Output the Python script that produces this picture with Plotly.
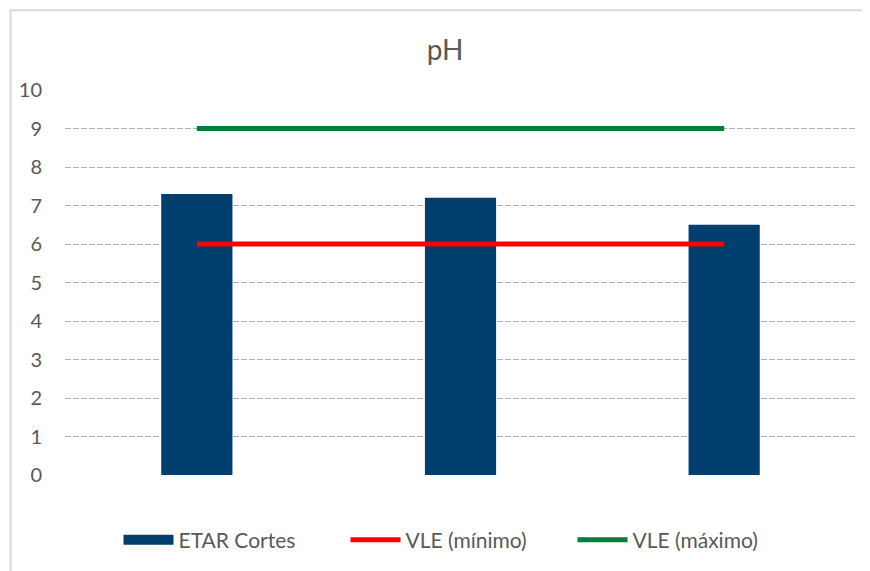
import plotly.graph_objects as go

categories = ["Amostra 1", "Amostra 2", "Amostra 3"]
etar_cortes = [7.3, 7.2, 6.5]
vle_minimo = [6, 6, 6]
vle_maximo = [9, 9, 9]
y_ticks = [0, 1, 2, 3, 4, 5, 6, 7, 8, 9, 10]

font_family = "Lato, 'Open Sans', sans-serif"
text_color = "#595959"
bar_color = "#003f6e"

fig = go.Figure()
fig.add_trace(go.Bar(x=categories, y=etar_cortes, name="ETAR Cortes", showlegend=False,
                     marker=dict(color=bar_color, line=dict(width=0)), width=0.27))
# legend-only entry giving the wide rectangular swatch of the reference
fig.add_trace(go.Scatter(x=[None], y=[None], name="ETAR Cortes", mode="lines",
                         line=dict(color=bar_color, width=14)))
fig.add_trace(go.Scatter(x=categories, y=vle_minimo, name="VLE (mínimo)", mode="lines",
                         line=dict(color="#ff0000", width=5)))
fig.add_trace(go.Scatter(x=categories, y=vle_maximo, name="VLE (máximo)", mode="lines",
                         line=dict(color="#007e3a", width=5)))

OFF = 8  # page body margin
W, H = 870 - OFF, 571 - OFF
L = 64.5 - OFF
T = 90 - OFF
R = W - (856.5 - OFF)
B = H - (476 - OFF)
pw = W - L - R
ph = H - T - B

fig.update_layout(
    width=W, height=H,
    margin=dict(l=L, r=R, t=T, b=B, pad=0),
    paper_bgcolor="white", plot_bgcolor="white",
    font=dict(family=font_family, color=text_color, size=20),
    title=dict(text="pH", x=(445 - OFF) / W, xanchor="center", y=1 - (50 - OFF) / H,
               yanchor="middle",
               font=dict(size=28, color=text_color, family=font_family)),
    showlegend=True,
    legend=dict(orientation="h", x=(459 - 64.5) / pw, xanchor="center",
                y=(476 - 540) / ph, yanchor="middle",
                font=dict(size=21, color=text_color), itemwidth=50,
                entrywidth=162, entrywidthmode="pixels",
                traceorder="normal"),
    xaxis=dict(showticklabels=False, showgrid=False, zeroline=False, showline=False,
               ticks="", range=[-0.5, 2.5]),
    yaxis=dict(range=[0, 10], tickvals=y_ticks, showgrid=True, gridcolor="#b0b0b0",
               griddash="6px,2px", gridwidth=1.4, zeroline=False, showline=False,
               ticks="", ticklabelstandoff=22,
               tickfont=dict(size=20, color=text_color)),
    shapes=[dict(type="rect", xref="paper", yref="paper", layer="below",
                 x0=(10 - 64.5) / pw, x1=(890 - 64.5) / pw,
                 y0=(476 - 600) / ph, y1=(476 - 10) / ph,
                 line=dict(color="#d9d9d9", width=2), fillcolor="rgba(0,0,0,0)")],
)

fig.write_html("out.html")
